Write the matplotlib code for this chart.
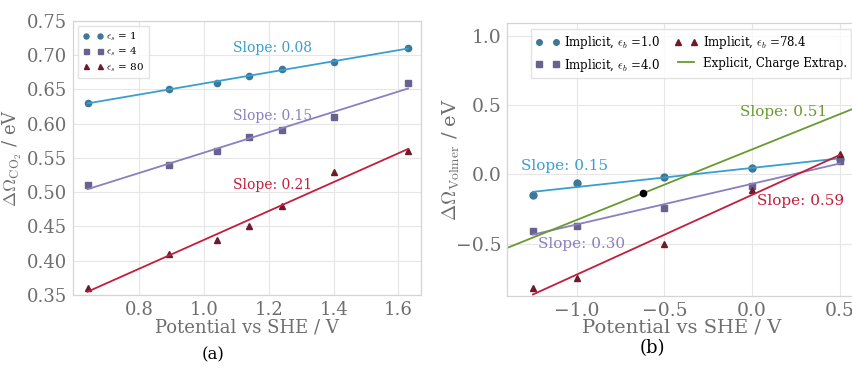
import numpy as np
import matplotlib.pyplot as plt
from matplotlib.ticker import FormatStrFormatter

# panel (a): CO2 adsorption vs potential
pot_a = [0.64, 0.89, 1.04, 1.14, 1.24, 1.40, 1.63]
co2_eps1 = [0.63, 0.65, 0.66, 0.67, 0.68, 0.69, 0.71]
co2_eps4 = [0.51, 0.54, 0.56, 0.58, 0.59, 0.61, 0.66]
co2_eps80 = [0.36, 0.41, 0.43, 0.45, 0.48, 0.53, 0.56]
slopes_a = ["0.08", "0.15", "0.21"]

# panel (b): Volmer step vs potential
pot_b = [-1.25, -1.0, -0.5, 0.0, 0.5]
volmer_eps1 = [-0.15, -0.065, -0.02, 0.05, 0.11]
volmer_eps4 = [-0.41, -0.37, -0.24, -0.08, 0.10]
volmer_eps78 = [-0.82, -0.75, -0.50, -0.11, 0.145]
slopes_b = ["0.15", "0.30", "0.59"]
explicit_pot = -0.62
explicit_val = -0.135
explicit_slope = 0.51

plt.rcParams['font.family'] = ['DejaVu Serif']
plt.rcParams['mathtext.fontset'] = 'cm'

grid_col = '#e6e6e6'
tick_col = '#6e6e6e'

marker_cols = ['#3d7898', '#66648e', '#6e1a2c']
line_cols = ['#3a9fcf', '#8c7fc0', '#c21e3c']
green = '#6a9a2e'


def style_axes(ax):
    ax.set_facecolor('white')
    ax.grid(True, color=grid_col, linewidth=0.8)
    ax.set_axisbelow(True)
    for sp in ax.spines.values():
        sp.set_color('#d4d4d4')
        sp.set_linewidth(0.9)
    ax.tick_params(length=0, colors=tick_col, labelsize=13, pad=4)


fig = plt.figure(figsize=(8.53, 3.72), dpi=100)

# ---- panel (a)
ax1 = fig.add_axes([0.0856, 0.207, 0.408, 0.737])
style_axes(ax1)
series_a = [co2_eps1, co2_eps4, co2_eps80]
markers = ['o', 's', '^']
labels_a = [r'$\epsilon_s$ = 1', r'$\epsilon_s$ = 4', r'$\epsilon_s$ = 80']
x_a = np.array(pot_a)
for i, ys in enumerate(series_a):
    ax1.plot(x_a, ys, linestyle='none', marker=markers[i], ms=4.5,
             color=marker_cols[i], label=labels_a[i])
    k, b = np.polyfit(x_a, ys, 1)
    ax1.plot(x_a[[0, -1]], k * x_a[[0, -1]] + b, color=line_cols[i], lw=1.3)
ax1.text(1.09, 0.704, 'Slope: ' + slopes_a[0], color=line_cols[0], fontsize=10)
ax1.text(1.09, 0.605, 'Slope: ' + slopes_a[1], color=line_cols[1], fontsize=10)
ax1.text(1.09, 0.504, 'Slope: ' + slopes_a[2], color=line_cols[2], fontsize=10)
ax1.set_ylim(0.35, 0.75)
ax1.set_xlim(0.595, 1.67)
ax1.set_xticks([0.8, 1.0, 1.2, 1.4, 1.6])
ax1.set_yticks(np.arange(0.35, 0.751, 0.05))
ax1.yaxis.set_major_formatter(FormatStrFormatter('%.2f'))
ax1.set_xlabel('Potential vs SHE / V', color=tick_col, fontsize=13, labelpad=0)
ax1.set_ylabel(r'$\Delta\Omega_{\mathrm{CO_2}}$ / eV', color=tick_col, fontsize=13, labelpad=2)
ax1.legend(loc='upper left', numpoints=2, fontsize=7.5, frameon=True,
           edgecolor='#dddddd', fancybox=False, borderpad=0.4, handletextpad=0.3,
           labelspacing=0.25, markerscale=0.8)
fig.text(0.25, 0.035, '(a)', fontsize=12, ha='center')

# ---- panel (b)
ax2 = fig.add_axes([0.594, 0.204, 0.411, 0.734])
style_axes(ax2)
series_b = [volmer_eps1, volmer_eps4, volmer_eps78]
labels_b = [r'Implicit, $\epsilon_b$ =1.0', r'Implicit, $\epsilon_b$ =4.0',
            r'Implicit, $\epsilon_b$ =78.4']
x_b = np.array(pot_b)
handles = []
for i, ys in enumerate(series_b):
    h, = ax2.plot(x_b, ys, linestyle='none', marker=markers[i], ms=5,
                  color=marker_cols[i], label=labels_b[i])
    handles.append(h)
    k, b = np.polyfit(x_b, ys, 1)
    ax2.plot(x_b[[0, -1]], k * x_b[[0, -1]] + b, color=line_cols[i], lw=1.3)
g = ax2.axline((explicit_pot, explicit_val), slope=explicit_slope, color=green, lw=1.3,
               label='Explicit, Charge Extrap.')
ax2.plot([explicit_pot], [explicit_val], 'o', color='black', ms=4.5)
ax2.text(-1.32, 0.03, 'Slope: ' + slopes_b[0], color=line_cols[0], fontsize=11)
ax2.text(-1.22, -0.53, 'Slope: ' + slopes_b[1], color=line_cols[1], fontsize=11)
ax2.text(0.03, -0.22, 'Slope: ' + slopes_b[2], color=line_cols[2], fontsize=11)
ax2.text(-0.07, 0.42, 'Slope: ' + str(explicit_slope), color=green, fontsize=11)
ax2.set_xlim(-1.4, 0.6)
ax2.set_ylim(-0.88, 1.095)
ax2.set_xticks([-1.0, -0.5, 0.0, 0.5])
ax2.set_yticks([-0.5, 0.0, 0.5, 1.0])
ax2.tick_params(labelsize=13.5)
ax2.set_xlabel('Potential vs SHE / V', color=tick_col, fontsize=14, labelpad=-1)
ax2.set_ylabel(r'$\Delta\Omega_{\mathrm{Volmer}}$ / eV', color=tick_col, fontsize=14, labelpad=-5)
ax2.legend(handles=[handles[0], handles[1], handles[2], g], loc='upper right',
           ncol=2, numpoints=2, fontsize=8.5, frameon=True, edgecolor='#dddddd',
           fancybox=False, handletextpad=0.4, columnspacing=1.2, markerscale=0.8)
fig.text(0.765, 0.05, '(b)', fontsize=13, ha='center')

fig.savefig('out.png', dpi=100)
